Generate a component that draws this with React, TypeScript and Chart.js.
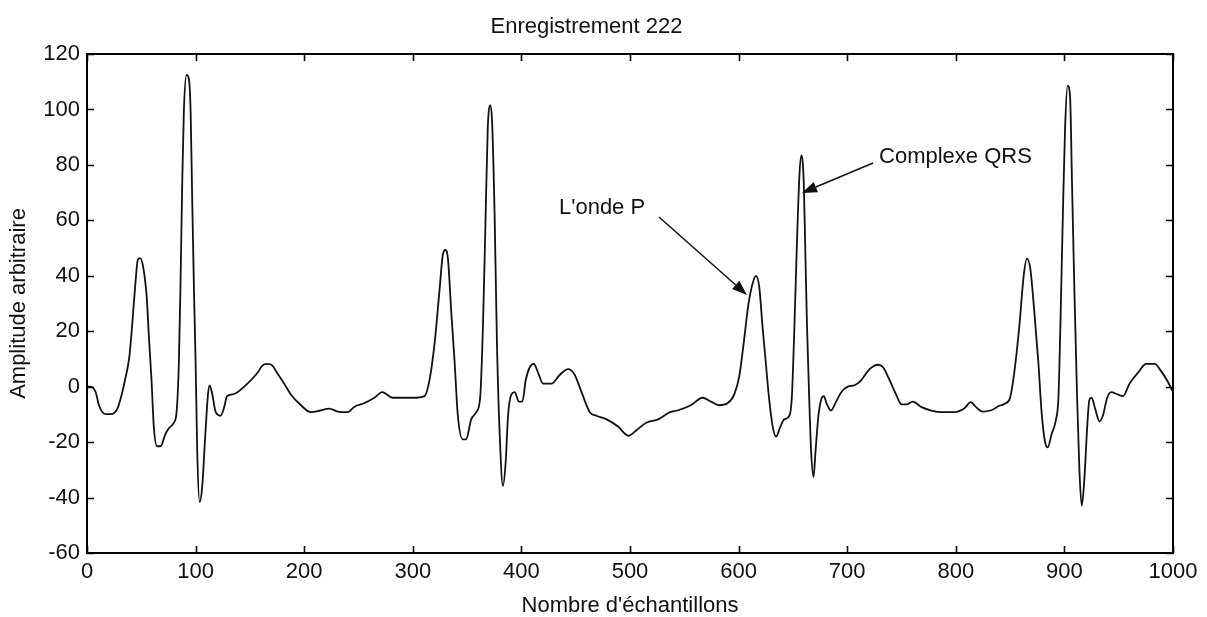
import React, { useEffect, useRef } from "react";
import { Chart, registerables } from "chart.js";

Chart.register(...registerables);

// Sample index (x) and arbitrary amplitude (y)
const sampleIndex: number[] = [
  0, 3, 8, 11, 17, 22, 28, 32, 35, 39, 41.5, 44.6, 46.8, 49, 52, 55, 57, 59.4, 61.5, 64.6, 67.7, 72.3, 75.4, 80, 82.5,
  84.6, 86, 87.7, 89.2, 91.7, 93.8, 95.4, 96.9, 98.5, 100, 101.5, 103.7, 106, 109, 111.4, 113, 115.4, 118.5, 123, 126,
  129, 134, 138.5, 147.7, 157, 161.5, 166, 170.8, 175, 181.5, 187.7, 197, 206, 215, 223, 231, 240, 246, 255, 264.6,
  272, 281.5, 300, 310.8, 315.4, 320, 324.6, 327.7, 330, 332.3, 335.4, 338.5, 341.5, 346, 349, 353.8, 358.5, 362,
  364.6, 367, 369, 371.4, 373, 375.4, 377.5, 380, 383, 385.5, 387.7, 390.8, 393.8, 397.8, 400.9, 404, 407.7, 411.4,
  415.4, 420, 427.7, 435.4, 443, 449, 455.4, 463, 469, 478.5, 489, 498.5, 506, 515, 526, 536.9, 543.7, 556, 566.8,
  574.5, 582, 589.8, 596, 600.6, 604.6, 609, 613, 616, 619, 622, 625, 628, 631.4, 634.5, 638.5, 642, 646.8, 649,
  651.4, 653.8, 656, 657.8, 660, 661.5, 663, 665, 666.8, 669, 670.8, 673.5, 676, 678.5, 681, 685, 689.8, 694.5,
  700.6, 706.8, 713, 720.6, 728.3, 733, 739, 745, 750, 754.5, 760.6, 768, 777.5, 786.8, 798.5, 807.7, 813.8, 818.5,
  824.6, 832, 840, 846, 850, 853.8, 858.5, 862.5, 865.5, 868.6, 872.3, 876, 879, 882, 884.6, 888.3, 892.3, 894.5,
  896.3, 898.5, 900.6, 903, 905.2, 907, 909.2, 911.7, 913.8, 916, 918.5, 921, 923, 925, 928.3, 932.3, 935.4, 939.4,
  943, 949, 954, 960, 967.7, 975.4, 983, 989, 995.4, 1000,
];

const amplitude: number[] = [
  0, 0, -2, -6.7, -9.9, -9.9, -7.9, -2.8, 2.4, 10.8, 21.8, 37.4, 45.8, 46.4, 42.6, 32.2, 18, 2.4, -14.4, -21.5, -21.5,
  -17, -15, -13, -9.2, 8.9, 34.8, 73.6, 99.5, 112.5, 111, 99.5, 67, 34.8, 8.9, -23.5, -41.6, -36.4, -17, -2.8, 0.5,
  -2.8, -9.2, -10.5, -7.9, -3.4, -2.8, -2, 1.1, 5, 7.6, 8.2, 7.6, 5, 1.1, -2.8, -6.7, -9.2, -8.6, -7.9, -9, -9.2, -7.3,
  -6, -4, -2, -4, -4, -3.4, 2.4, 15.4, 34.8, 47.7, 49.3, 46.4, 27, 8.9, -10.5, -19, -19, -11.8, -9.2, -4, 21.8, 60.7,
  93, 101.5, 95.7, 60.7, 15.4, -17, -35.8, -27.4, -10.5, -2.8, -2, -5.4, -5.4, 2.4, 7, 8.2, 5, 1.1, 1.1, 4.3, 6.3, 4.3,
  -2, -9.2, -10.5, -11.8, -14.4, -17.7, -15.7, -13, -11.8, -9.2, -8.6, -6.7, -4, -5.4, -6.7, -6, -2.8, 3.7, 15.4, 29.6,
  37.4, 40, 36, 21.8, 8.9, -4, -14.4, -18, -14.4, -11.8, -10.5, -4, 21.8, 52.9, 76.2, 83.4, 73.6, 47.7, 21.8, -4,
  -23.5, -32.6, -23.5, -10.5, -4.7, -3.4, -6, -8.6, -5.4, -2, 0, 0.5, 2.4, 6.3, 7.9, 7, 2.4, -2.8, -6.4, -6.4, -5.4,
  -7.3, -8.6, -9.2, -9.2, -7.9, -5.6, -7.3, -9, -8.6, -6.9, -6, -4, 5, 21.8, 40, 46.2, 42.6, 27, 8.9, -9.2, -19.6,
  -21.9, -17, -11.8, -4, 21.8, 60.7, 93, 108.6, 104.7, 73.6, 34.8, -4, -30, -43, -32.6, -14.4, -4.7, -4, -7.9, -12.5,
  -10.5, -4, -2, -2.8, -3.4, 1.1, 5, 8.2, 8.2, 5.6, 1.7, -2,
];

const xTickValues: number[] = [0, 100, 200, 300, 400, 500, 600, 700, 800, 900, 1000];
const yTickValues: number[] = [-60, -40, -20, 0, 20, 40, 60, 80, 100, 120];

const chartTitle = "Enregistrement 222";
const xTitle = "Nombre d'échantillons";
const yTitle = "Amplitude arbitraire";

// Annotations: label text, label left/middle anchor (data units), arrow start and tip (data units)
const annotationLabels: string[] = ["L'onde P", "Complexe QRS"];
const annotationTextX: number[] = [434.6, 729.3];
const annotationTextY: number[] = [64.4, 82.8];
const annotationArrowFromX: number[] = [526.7, 723.8];
const annotationArrowFromY: number[] = [61.2, 80.7];
const annotationArrowToX: number[] = [607.7, 658.4];
const annotationArrowToY: number[] = [33.1, 69.9];

const FONT = "'Liberation Sans', Arial, Helvetica, sans-serif";

const framePlugin = {
  id: "matlabFrame",
  afterDatasetsDraw(chart: any) {
    const { ctx, chartArea, scales } = chart;
    const { left, right, top, bottom } = chartArea;
    const xs = scales.x;
    const ys = scales.y;
    ctx.save();
    ctx.strokeStyle = "#000";
    ctx.lineWidth = 1.6;
    const tl = 7;
    ctx.beginPath();
    xTickValues.forEach((v) => {
      const px = Math.round(xs.getPixelForValue(v)) + 0.5;
      ctx.moveTo(px, bottom);
      ctx.lineTo(px, bottom - tl);
      ctx.moveTo(px, top);
      ctx.lineTo(px, top + tl);
    });
    yTickValues.forEach((v) => {
      const py = Math.round(ys.getPixelForValue(v)) + 0.5;
      ctx.moveTo(left, py);
      ctx.lineTo(left + tl, py);
      ctx.moveTo(right, py);
      ctx.lineTo(right - tl, py);
    });
    ctx.stroke();
    ctx.lineWidth = 2;
    ctx.strokeRect(left, top, right - left, bottom - top);

    // annotations
    ctx.fillStyle = "#111";
    ctx.strokeStyle = "#111";
    ctx.font = `22px ${FONT}`;
    ctx.textBaseline = "middle";
    ctx.textAlign = "left";
    annotationLabels.forEach((label, i) => {
      const tx = xs.getPixelForValue(annotationTextX[i]);
      const ty = ys.getPixelForValue(annotationTextY[i]);
      ctx.fillText(label, tx, ty);
      const x0 = xs.getPixelForValue(annotationArrowFromX[i]);
      const y0 = ys.getPixelForValue(annotationArrowFromY[i]);
      const x1 = xs.getPixelForValue(annotationArrowToX[i]);
      const y1 = ys.getPixelForValue(annotationArrowToY[i]);
      const ang = Math.atan2(y1 - y0, x1 - x0);
      const hl = 15;
      const hw = 5.5;
      const bx = x1 - hl * Math.cos(ang);
      const by = y1 - hl * Math.sin(ang);
      ctx.lineWidth = 1.5;
      ctx.beginPath();
      ctx.moveTo(x0, y0);
      ctx.lineTo(bx, by);
      ctx.stroke();
      ctx.beginPath();
      ctx.moveTo(x1, y1);
      ctx.lineTo(bx + hw * Math.sin(ang), by - hw * Math.cos(ang));
      ctx.lineTo(bx - hw * Math.sin(ang), by + hw * Math.cos(ang));
      ctx.closePath();
      ctx.fill();
    });
    ctx.restore();
  },
};

export default function App() {
  const canvasRef = useRef<HTMLCanvasElement | null>(null);

  useEffect(() => {
    document.body.style.margin = "0";
    document.body.style.overflow = "hidden";
    const canvas = canvasRef.current;
    if (!canvas) return;
    const points = sampleIndex.map((x, i) => ({ x, y: amplitude[i] }));
    const chart = new Chart(canvas, {
      type: "line",
      data: {
        datasets: [
          {
            data: points,
            borderColor: "#111",
            borderWidth: 1.8,
            pointRadius: 0,
            fill: false,
            cubicInterpolationMode: "monotone",
          },
        ],
      },
      options: {
        animation: false,
        responsive: false,
        maintainAspectRatio: false,
        layout: { padding: { left: 0, right: 34, top: 0, bottom: 0 } },
        plugins: {
          legend: { display: false },
          tooltip: { enabled: false },
          title: {
            display: true,
            text: chartTitle,
            color: "#111",
            font: { family: FONT, size: 22, weight: "normal", lineHeight: 1.2 },
            padding: { top: 14, bottom: 13.6 },
          },
        },
        scales: {
          x: {
            type: "linear",
            min: 0,
            max: 1000,
            afterFit: (scale: any) => {
              scale.height = 64;
            },
            afterBuildTicks: (scale: any) => {
              scale.ticks = xTickValues.map((v) => ({ value: v }));
            },
            grid: { display: false, drawTicks: false },
            border: { display: false },
            ticks: {
              color: "#111",
              padding: 6,
              maxRotation: 0,
              font: { family: FONT, size: 22 },
              callback: (v: any) => String(v),
            },
            title: {
              display: true,
              text: xTitle,
              color: "#111",
              font: { family: FONT, size: 22, lineHeight: 1.0 },
              padding: { top: 0, bottom: 0 },
            },
          },
          y: {
            type: "linear",
            min: -60,
            max: 120,
            afterFit: (scale: any) => {
              scale.width = 87;
            },
            afterBuildTicks: (scale: any) => {
              scale.ticks = yTickValues.map((v) => ({ value: v }));
            },
            grid: { display: false, drawTicks: false },
            border: { display: false },
            ticks: {
              color: "#111",
              padding: 7,
              font: { family: FONT, size: 22 },
              callback: (v: any) => String(v),
            },
            title: {
              display: true,
              text: yTitle,
              color: "#111",
              font: { family: FONT, size: 22, lineHeight: 1.2 },
              padding: { top: 6, bottom: 0 },
            },
          },
        },
      },
      plugins: [framePlugin],
    } as any);
    return () => chart.destroy();
  }, []);

  return (
    <div style={{ width: 1207, height: 617, background: "#fff" }}>
      <canvas ref={canvasRef} width={1207} height={617} />
    </div>
  );
}
